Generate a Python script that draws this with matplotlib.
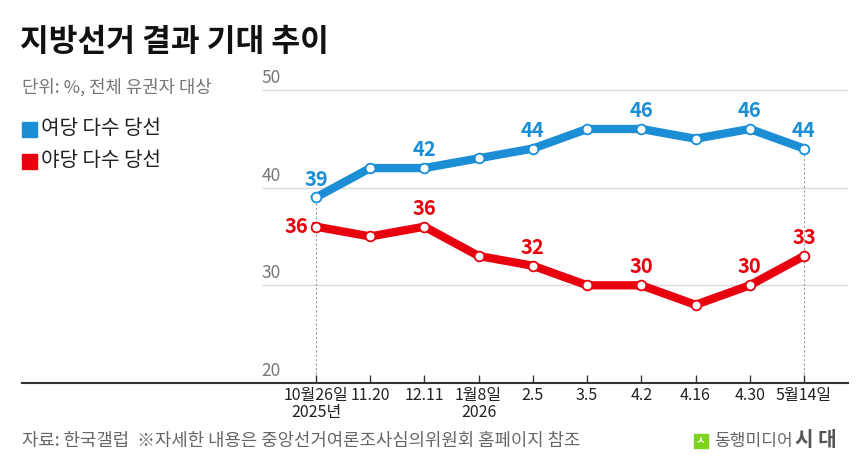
import matplotlib
matplotlib.use('Agg')
from matplotlib import pyplot as plt
from matplotlib.patches import Rectangle

plt.rcParams['font.family'] = ['Noto Sans CJK KR', 'DejaVu Sans']

dates = ['10월26일\n2025년', '11.20', '12.11', '1월8일\n2026', '2.5', '3.5',
         '4.2', '4.16', '4.30', '5월14일']
ruling = [39, 42, 42, 43, 44, 46, 46, 45, 46, 44]
opposition = [36, 35, 36, 33, 32, 30, 30, 28, 30, 33]
ruling_labels = [0, 2, 4, 6, 8, 9]
opposition_labels = [2, 4, 6, 8, 9]

blue = '#1b8ed6'
red = '#e8000e'
gray = '#666666'

W, H = 860, 471
fig = plt.figure(figsize=(W / 100, H / 100), dpi=100)

# axes spans x 22..848 px, y 383 (=20) up to 70 px
step = 54.22
x0 = 316
left_px, right_px = 22, 848
xmin = (left_px - x0) / step
xmax = 9 + (right_px - 804) / step
ypx = 9.77
top_val = 52
ax = fig.add_axes([left_px / W, (H - 383) / H, (right_px - left_px) / W,
                   (top_val - 20) * ypx / H])
ax.set_xlim(xmin, xmax)
ax.set_ylim(20, top_val)

x = list(range(len(dates)))

for v in [30, 40, 50]:
    ax.hlines(v, -1.0, xmax, color='#d9d9d9', lw=1, zorder=1)
for v in [20, 30, 40, 50]:
    ax.text(-1.0, v + 0.3, str(v), color='#777777', fontsize=12.5,
            ha='left', va='bottom')

for i in [0, 9]:
    ax.vlines(i, 20, ruling[i], color='#999999', lw=0.8, ls=(0, (2, 2)),
              zorder=1)

ax.plot(x, ruling, color=blue, lw=6, solid_joinstyle='miter', zorder=3,
        marker='o', ms=7, mfc='white', mec=blue, mew=1.3)
ax.plot(x, opposition, color=red, lw=6, solid_joinstyle='miter', zorder=3,
        marker='o', ms=7, mfc='white', mec=red, mew=1.3)

for i in ruling_labels:
    ax.text(i, ruling[i] + 0.8, str(ruling[i]), color=blue, fontsize=14.5,
            fontweight='bold', ha='center', va='bottom')
for i in opposition_labels:
    ax.text(i, opposition[i] + 0.8, str(opposition[i]), color=red,
            fontsize=14.5, fontweight='bold', ha='center', va='bottom')
ax.text(-0.15, opposition[0], str(opposition[0]), color=red, fontsize=14.5,
        fontweight='bold', ha='right', va='center')

for s in ['top', 'right', 'left']:
    ax.spines[s].set_visible(False)
ax.spines['bottom'].set_color('#333333')
ax.spines['bottom'].set_linewidth(1.5)
ax.set_yticks([])
ax.set_xticks(x)
ax.set_xticklabels(dates, fontsize=11.5, color='#222222', linespacing=1.0)
ax.tick_params(axis='x', direction='in', length=6, width=1, color='#333333',
               pad=3)

# title and notes
fig.text(20 / W, 1 - 42 / H, '지방선거 결과 기대 추이', fontsize=22.5,
         fontweight='bold', color='#111111', va='center', ha='left')
fig.text(22 / W, 1 - 87 / H, '단위: %, 전체 유권자 대상', fontsize=12.8,
         color='#777777', va='center', ha='left')

fig.patches.append(Rectangle((22 / W, 1 - 137 / H), 15 / W, 15 / H,
                             transform=fig.transFigure, color=blue))
fig.text(41 / W, 1 - 129 / H, '여당 다수 당선', fontsize=14.5,
         color='#222222', va='center', ha='left')
fig.patches.append(Rectangle((22 / W, 1 - 169 / H), 15 / W, 15 / H,
                             transform=fig.transFigure, color=red))
fig.text(41 / W, 1 - 161 / H, '야당 다수 당선', fontsize=14.5,
         color='#222222', va='center', ha='left')

fig.text(22 / W, 1 - 441 / H,
         '자료: 한국갤럽  ※자세한 내용은 중앙선거여론조사심의위원회 홈페이지 참조',
         fontsize=12.8, color='#666666', va='center', ha='left')

# logo
fig.patches.append(Rectangle((694 / W, 1 - 448 / H), 14 / W, 14 / H,
                             transform=fig.transFigure, color='#7ed321'))
fig.text(701 / W, 1 - 441 / H, 'ㅅ', fontsize=7.5, color='white',
         fontweight='bold', va='center', ha='center')
fig.text(714 / W, 1 - 441 / H, '동행미디어', fontsize=12.3, color=gray,
         va='center', ha='left')
fig.text(795 / W, 1 - 440 / H, '시 대', fontsize=14.5, color='#555555',
         fontweight='bold', va='center', ha='left')

fig.savefig('out.png', dpi=100, facecolor='white')
